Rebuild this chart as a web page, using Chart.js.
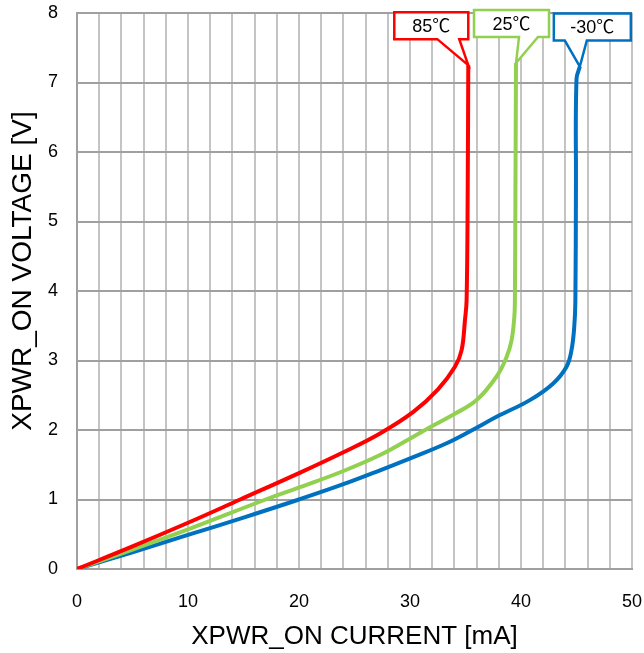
<!DOCTYPE html>
<html>
<head>
<meta charset="utf-8">
<script src="https://cdn.jsdelivr.net/npm/chart.js@4.4.1/dist/chart.umd.min.js"></script>
<style>
  html, body { margin: 0; padding: 0; background: #fff; }
  #wrap { width: 644px; height: 653px; position: relative; }
</style>
</head>
<body>
<div id="wrap"><canvas id="ivChart"></canvas></div>
<script>
// XPWR_ON current [mA] vs voltage [V], one curve per temperature
const seriesNames = ['85\u2103', '25\u2103', '-30\u2103'];
const seriesColors = ['#ff0000', '#92d050', '#0070c0'];

const current85 = [0, 5, 10, 14.7, 20, 24, 27.3, 30.3, 32.5, 34.05, 34.65, 34.95, 35.1, 35.2, 35.25];
const voltage85 = [0, 0.325, 0.665, 1.0, 1.38, 1.68, 1.95, 2.26, 2.58, 2.91, 3.15, 3.58, 3.87, 5.5, 7.25];

const current25 = [0, 5, 10, 17.0, 20.5, 24, 27.3, 29.5, 31.8, 34, 36.0, 37.8, 38.7, 39.15, 39.4, 39.45, 39.5, 39.55];
const voltage25 = [0, 0.28, 0.57, 1.0, 1.2, 1.41, 1.64, 1.83, 2.04, 2.23, 2.43, 2.77, 3.05, 3.29, 3.63, 3.87, 5.5, 7.28];

const currentM30 = [0, 5, 10, 15, 20, 24, 27.3, 30.3, 33.3, 35.5, 37.8, 40.8, 42.9, 44.1, 44.55, 44.8, 44.9, 44.95, 45.0, 45.3];
const voltageM30 = [0, 0.24, 0.49, 0.74, 1.0, 1.22, 1.42, 1.61, 1.81, 1.99, 2.19, 2.43, 2.67, 2.91, 3.15, 3.49, 3.87, 5.5, 7.05, 7.23];

const xTicksMajor = [0, 10, 20, 30, 40, 50];
const yTicks = [0, 1, 2, 3, 4, 5, 6, 7, 8];

const FONT = "'Liberation Sans', Arial, 'Noto Sans CJK JP', sans-serif";

function toPoints(xs, ys) {
  return xs.map((x, i) => ({ x: x, y: ys[i] }));
}

const seriesData = [
  toPoints(current85, voltage85),
  toPoints(current25, voltage25),
  toPoints(currentM30, voltageM30)
];

// label boxes sit above the end of each curve, offsets in px from that end point
const calloutBoxes = [
  { left: -74, right: 0, tailL: -31, tailR: -9 },
  { left: -42, right: 33, tailL: 3, tailR: 22 },
  { left: -26, right: 51, tailL: -15, tailR: 7 }
];

const calloutPlugin = {
  id: 'callouts',
  afterDatasetsDraw(chart) {
    const ctx = chart.ctx;
    chart.data.datasets.forEach((ds, i) => {
      const meta = chart.getDatasetMeta(i);
      const end = meta.data[meta.data.length - 1];
      const b = calloutBoxes[i];
      const tx = end.x, ty = end.y;
      const top = ty - 53, bottom = ty - 26;
      ctx.save();
      ctx.beginPath();
      ctx.moveTo(tx + b.left, top);
      ctx.lineTo(tx + b.right, top);
      ctx.lineTo(tx + b.right, bottom);
      ctx.lineTo(tx + b.tailR, bottom);
      ctx.lineTo(tx, ty);
      ctx.lineTo(tx + b.tailL, bottom);
      ctx.lineTo(tx + b.left, bottom);
      ctx.closePath();
      ctx.fillStyle = '#ffffff';
      ctx.fill();
      ctx.lineWidth = 2.5;
      ctx.lineJoin = 'miter';
      ctx.strokeStyle = ds.borderColor;
      ctx.stroke();
      ctx.fillStyle = '#000';
      ctx.font = '18px ' + FONT;
      ctx.textAlign = 'center';
      ctx.textBaseline = 'middle';
      ctx.fillText(ds.label, tx + (b.left + b.right) / 2, (top + bottom) / 2 + 1);
      ctx.restore();
    });
  }
};

// vertical axis title, drawn a little above the plot's middle
const yTitlePlugin = {
  id: 'yTitle',
  afterDraw(chart) {
    const ctx = chart.ctx;
    const area = chart.chartArea;
    ctx.save();
    ctx.translate(23, (area.top + area.bottom) / 2 - 20);
    ctx.rotate(-Math.PI / 2);
    ctx.fillStyle = '#000';
    ctx.font = '28px ' + FONT;
    ctx.textAlign = 'center';
    ctx.textBaseline = 'middle';
    ctx.fillText('XPWR_ON VOLTAGE [V]', 0, 0);
    ctx.restore();
  }
};

// keep label overhang from shrinking the plot; layout.padding handles the edges
function clearScalePadding(scale) {
  scale.paddingTop = 0;
  scale.paddingBottom = 0;
  scale.paddingLeft = 0;
  scale.paddingRight = 0;
}

const datasets = seriesData.map((pts, i) => ({
  label: seriesNames[i],
  data: pts,
  borderColor: seriesColors[i],
  backgroundColor: seriesColors[i],
  borderWidth: 4,
  showLine: true,
  pointRadius: 0,
  tension: 0.4,
  fill: false
}));

new Chart(document.getElementById('ivChart'), {
  type: 'scatter',
  data: { datasets: datasets },
  options: {
    responsive: true,
    maintainAspectRatio: false,
    animation: false,
    layout: { padding: { left: 0, right: 12, top: 13, bottom: 0 } },
    plugins: {
      legend: { display: false },
      tooltip: { enabled: false }
    },
    scales: {
      x: {
        type: 'linear',
        min: 0,
        max: 50,
        afterFit: (scale) => { scale.height = 84; clearScalePadding(scale); },
        afterBuildTicks: (scale) => {
          const ticks = [];
          for (let v = 0; v <= 50; v += 2) ticks.push({ value: v });
          scale.ticks = ticks;
        },
        ticks: {
          autoSkip: false,
          maxRotation: 0,
          padding: 22,
          color: '#000',
          font: { family: FONT, size: 18 },
          callback: (v) => xTicksMajor.includes(v) ? String(v) : ''
        },
        grid: { color: '#c4c4c4', lineWidth: 2, drawTicks: false },
        border: { color: '#a0a0a0', width: 2 },
        title: {
          display: true,
          text: 'XPWR_ON CURRENT [mA]',
          color: '#000',
          font: { family: FONT, size: 26 },
          padding: { top: 0, bottom: 1 }
        }
      },
      y: {
        type: 'linear',
        min: 0,
        max: 8,
        afterFit: (scale) => { scale.width = 77; clearScalePadding(scale); },
        afterBuildTicks: (scale) => { scale.ticks = yTicks.map(v => ({ value: v })); },
        ticks: {
          padding: 19,
          color: '#000',
          font: { family: FONT, size: 18 }
        },
        grid: { color: '#a0a0a0', lineWidth: 2, drawTicks: false },
        border: { color: '#a0a0a0', width: 2 }
      }
    }
  },
  plugins: [calloutPlugin, yTitlePlugin]
});
</script>
</body>
</html>
